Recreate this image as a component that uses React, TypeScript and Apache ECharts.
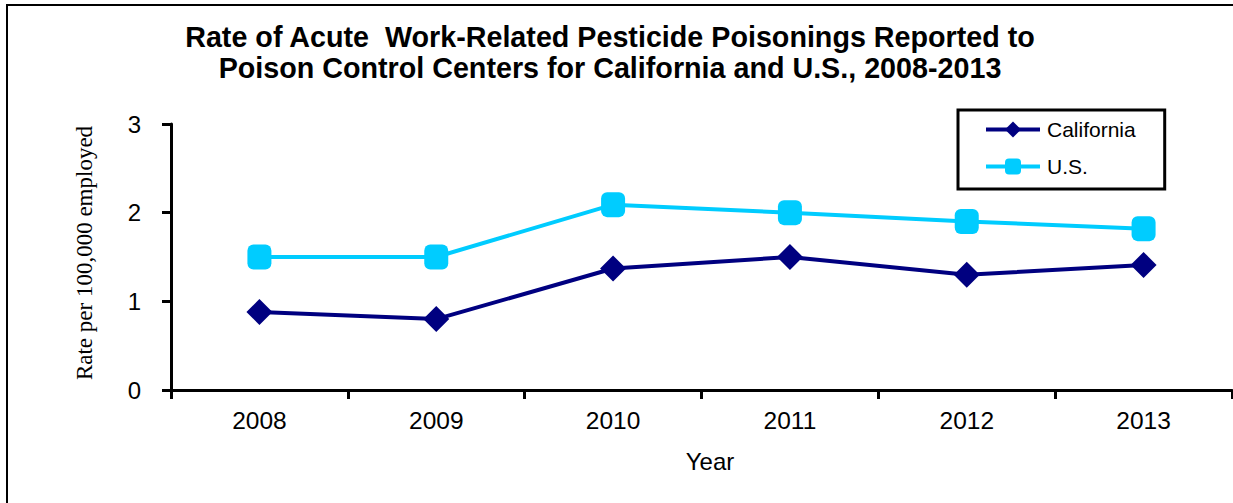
import React, { useEffect, useRef } from "react";
import * as echarts from "echarts";

const years = ["2008", "2009", "2010", "2011", "2012", "2013"];
const california = [0.88, 0.8, 1.37, 1.5, 1.3, 1.41];
const us = [1.5, 1.5, 2.09, 2.0, 1.9, 1.82];
const titleLines = [
  "Rate of Acute  Work-Related Pesticide Poisonings Reported to",
  "Poison Control Centers for California and U.S., 2008-2013",
];
const yAxisName = "Rate per 100,000 employed";
const xAxisName = "Year";

const SANS = "'Liberation Sans', Arial, sans-serif";
const SERIF = "'Liberation Serif', 'Times New Roman', serif";

export default function App() {
  const ref = useRef<HTMLDivElement>(null);
  useEffect(() => {
    if (!ref.current) return;
    const chart = echarts.init(ref.current, null, { renderer: "svg" });
    chart.setOption({
      animation: false,
      backgroundColor: "#ffffff",
      graphic: [
        {
          type: "rect",
          shape: { x: 7, y: 5, width: 1240, height: 510 },
          style: { fill: "none", stroke: "#000", lineWidth: 2 },
          silent: true,
        },
        {
          type: "text",
          x: 610,
          y: 37,
          style: {
            text: titleLines[0],
            font: `bold 28.7px ${SANS}`,
            fill: "#000",
            align: "center",
            verticalAlign: "middle",
          },
        },
        {
          type: "text",
          x: 610,
          y: 68,
          style: {
            text: titleLines[1],
            font: `bold 28.7px ${SANS}`,
            fill: "#000",
            align: "center",
            verticalAlign: "middle",
          },
        },
        {
          type: "text",
          x: 84,
          y: 253,
          rotation: Math.PI / 2,
          style: {
            text: yAxisName,
            font: `23px ${SERIF}`,
            fill: "#000",
            align: "center",
            verticalAlign: "middle",
          },
        },
        {
          type: "text",
          x: 710,
          y: 461,
          style: {
            text: xAxisName,
            font: `24px ${SANS}`,
            fill: "#000",
            align: "center",
            verticalAlign: "middle",
          },
        },
      ],
      legend: {
        orient: "vertical",
        left: 958,
        top: 110,
        padding: [9, 29, 12, 26],
        itemWidth: 54,
        itemHeight: 20,
        itemGap: 16,
        borderColor: "#000",
        borderWidth: 3,
        backgroundColor: "#fff",
        lineStyle: { width: 4 },
        textStyle: { fontFamily: SANS, fontSize: 21, color: "#000", padding: [0, 0, 0, 2] },
        data: ["California", "U.S."],
      },
      grid: { left: 171, top: 124, right: 1, bottom: 113, containLabel: false },
      xAxis: {
        type: "category",
        data: years,
        boundaryGap: true,
        axisLine: { lineStyle: { color: "#000", width: 3 } },
        axisTick: { show: true, length: 9, lineStyle: { color: "#000", width: 3 } },
        axisLabel: { color: "#000", fontFamily: SANS, fontSize: 24.5, margin: 18 },
        splitLine: { show: false },
      },
      yAxis: {
        type: "value",
        min: 0,
        max: 3,
        interval: 1,
        axisLine: { show: true, lineStyle: { color: "#000", width: 3 } },
        axisTick: { show: true, length: 9, lineStyle: { color: "#000", width: 3 } },
        axisLabel: { color: "#000", fontFamily: SANS, fontSize: 24, margin: 30 },
        splitLine: { show: false },
      },
      series: [
        {
          name: "California",
          type: "line",
          data: california,
          symbol: "diamond",
          symbolSize: 26,
          color: "#000080",
          lineStyle: { color: "#000080", width: 4 },
          itemStyle: { color: "#000080" },
        },
        {
          name: "U.S.",
          type: "line",
          data: us,
          symbol: "roundRect",
          symbolSize: [24, 25],
          color: "#00CCFF",
          lineStyle: { color: "#00CCFF", width: 4 },
          itemStyle: { color: "#00CCFF" },
        },
      ],
    });
    return () => chart.dispose();
  }, []);
  return (
    <div
      ref={ref}
      style={{ position: "fixed", left: 0, top: 0, width: 1233, height: 503 }}
    />
  );
}
